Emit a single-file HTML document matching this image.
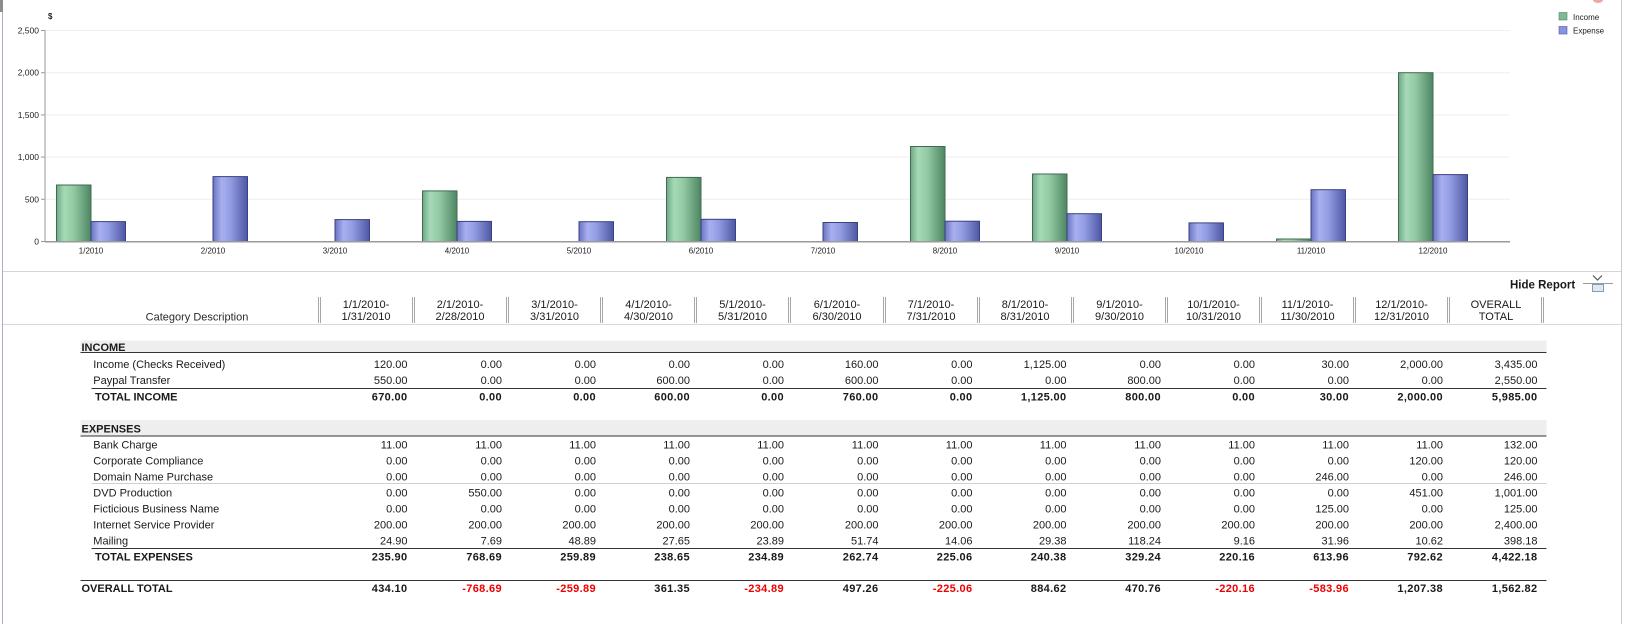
<!DOCTYPE html>
<html>
<head>
<meta charset="utf-8">
<style>
html,body{margin:0;padding:0;background:#fff;}
body{width:1627px;height:624px;overflow:hidden;}
svg{display:block;}
text{font-family:"Liberation Sans",Arial,sans-serif;fill:#1a1a1a;}
.v{font-size:11px;text-anchor:end;}
.b{font-weight:bold;letter-spacing:0.35px;}
.r{fill:#f00000;}
.h{font-size:11px;text-anchor:middle;fill:#2a2a2a;}
.l{font-size:11px;}
.ax{font-size:8px;fill:#222;}
.yl{font-size:8.5px;fill:#222;text-anchor:end;}
</style>
</head>
<body>
<svg width="1627" height="624" viewBox="0 0 1627 624" xmlns="http://www.w3.org/2000/svg">
<defs>
<linearGradient id="gG" x1="0" y1="0" x2="1" y2="0">
<stop offset="0" stop-color="#6ea886"/>
<stop offset="0.22" stop-color="#a6dab6"/>
<stop offset="0.5" stop-color="#92c9a3"/>
<stop offset="1" stop-color="#4d8562"/>
</linearGradient>
<linearGradient id="gB" x1="0" y1="0" x2="1" y2="0">
<stop offset="0" stop-color="#6a74c0"/>
<stop offset="0.25" stop-color="#a8b0f0"/>
<stop offset="0.5" stop-color="#939de3"/>
<stop offset="1" stop-color="#4e57a3"/>
</linearGradient>
</defs>

<!-- frame borders -->
<line x1="2.5" y1="0" x2="2.5" y2="624" stroke="#a8b2c0" stroke-width="1"/>
<rect x="0" y="0" width="3" height="12" fill="#8c8c8c"/>
<line x1="1621.5" y1="0" x2="1621.5" y2="624" stroke="#cccccc" stroke-width="1"/>
<ellipse cx="1598" cy="0" rx="5" ry="3" fill="#e8a8a8"/>

<!-- gridlines -->
<g stroke="#efefef" stroke-width="1">
<line x1="45" y1="30.5" x2="1510" y2="30.5"/>
<line x1="45" y1="72.7" x2="1510" y2="72.7"/>
<line x1="45" y1="114.9" x2="1510" y2="114.9"/>
<line x1="45" y1="157.1" x2="1510" y2="157.1"/>
<line x1="45" y1="199.3" x2="1510" y2="199.3"/>
</g>

<!-- y axis labels -->
<text x="48" y="19" style="font-size:8px;font-weight:bold;fill:#222">$</text>
<text class="yl" x="39" y="33.5">2,500</text>
<text class="yl" x="39" y="75.7">2,000</text>
<text class="yl" x="39" y="117.9">1,500</text>
<text class="yl" x="39" y="160.1">1,000</text>
<text class="yl" x="39" y="202.3">500</text>
<text class="yl" x="39" y="244.5">0</text>
<g stroke="#999" stroke-width="1">
<line x1="41" y1="30.5" x2="45" y2="30.5"/>
<line x1="41" y1="72.7" x2="45" y2="72.7"/>
<line x1="41" y1="114.9" x2="45" y2="114.9"/>
<line x1="41" y1="157.1" x2="45" y2="157.1"/>
<line x1="41" y1="199.3" x2="45" y2="199.3"/>
<line x1="41" y1="241.5" x2="45" y2="241.5"/>
</g>

<!-- bars -->
<g stroke-width="1">
<g fill="url(#gG)" stroke="#3f6b52">
<rect x="56.5" y="185" width="34.5" height="56.5"/>
<rect x="422.5" y="190.9" width="34.5" height="50.6"/>
<rect x="666.5" y="177.4" width="34.5" height="64.1"/>
<rect x="910.5" y="146.5" width="34.5" height="95"/>
<rect x="1032.5" y="174" width="34.5" height="67.5"/>
<rect x="1276.5" y="239" width="34.5" height="2.5"/>
<rect x="1398.5" y="72.7" width="34.5" height="168.8"/>
</g>
<g fill="url(#gB)" stroke="#3a4180">
<rect x="91" y="221.6" width="34.5" height="19.9"/>
<rect x="213" y="176.6" width="34.5" height="64.9"/>
<rect x="335" y="219.6" width="34.5" height="21.9"/>
<rect x="457" y="221.4" width="34.5" height="20.1"/>
<rect x="579" y="221.7" width="34.5" height="19.8"/>
<rect x="701" y="219.3" width="34.5" height="22.2"/>
<rect x="823" y="222.5" width="34.5" height="19"/>
<rect x="945" y="221.2" width="34.5" height="20.3"/>
<rect x="1067" y="213.7" width="34.5" height="27.8"/>
<rect x="1189" y="222.9" width="34.5" height="18.6"/>
<rect x="1311" y="189.7" width="34.5" height="51.8"/>
<rect x="1433" y="174.6" width="34.5" height="66.9"/>
</g>
</g>

<!-- axes -->
<line x1="45" y1="30" x2="45" y2="242" stroke="#999" stroke-width="1"/>
<line x1="45" y1="241.8" x2="1510" y2="241.8" stroke="#9a9a9a" stroke-width="1.5"/>

<!-- x labels -->
<g class="ax" text-anchor="middle">
<text x="91" y="253.5">1/2010</text>
<text x="213" y="253.5">2/2010</text>
<text x="335" y="253.5">3/2010</text>
<text x="457" y="253.5">4/2010</text>
<text x="579" y="253.5">5/2010</text>
<text x="701" y="253.5">6/2010</text>
<text x="823" y="253.5">7/2010</text>
<text x="945" y="253.5">8/2010</text>
<text x="1067" y="253.5">9/2010</text>
<text x="1189" y="253.5">10/2010</text>
<text x="1311" y="253.5">11/2010</text>
<text x="1433" y="253.5">12/2010</text>
</g>

<!-- legend -->
<rect x="1559" y="12.5" width="8" height="7.5" fill="#7fb893" stroke="#4d8562" stroke-width="0.6"/>
<rect x="1559" y="26.5" width="8" height="7.5" fill="#8a94de" stroke="#4e57a3" stroke-width="0.6"/>
<text class="ax" x="1573" y="19.8">Income</text>
<text class="ax" x="1573" y="33.6">Expense</text>

<!-- separator -->
<line x1="3" y1="271.5" x2="1621" y2="271.5" stroke="#d6d6d6" stroke-width="1"/>

<!-- Hide report -->
<text x="1510" y="288.5" style="font-size:11.5px;font-weight:bold;fill:#1a1a1a">Hide Report</text>
<line x1="1583" y1="283.5" x2="1613" y2="283.5" stroke="#9a9a9a" stroke-width="1"/>
<polyline points="1593,275.5 1597.5,280 1602,275.5" fill="none" stroke="#555" stroke-width="1.2"/>
<rect x="1592.5" y="284.5" width="11" height="7" fill="#dfe7f1" stroke="#8a9ab0" stroke-width="1"/>

<!-- header double lines -->
<g stroke="#a6a6a6" stroke-width="1">
<line x1="318.5" y1="297" x2="318.5" y2="323"/><line x1="320.5" y1="297" x2="320.5" y2="323"/>
<line x1="412.5" y1="297" x2="412.5" y2="323"/><line x1="414.5" y1="297" x2="414.5" y2="323"/>
<line x1="506.5" y1="297" x2="506.5" y2="323"/><line x1="508.5" y1="297" x2="508.5" y2="323"/>
<line x1="600.5" y1="297" x2="600.5" y2="323"/><line x1="602.5" y1="297" x2="602.5" y2="323"/>
<line x1="694.5" y1="297" x2="694.5" y2="323"/><line x1="696.5" y1="297" x2="696.5" y2="323"/>
<line x1="788.5" y1="297" x2="788.5" y2="323"/><line x1="790.5" y1="297" x2="790.5" y2="323"/>
<line x1="883.5" y1="297" x2="883.5" y2="323"/><line x1="885.5" y1="297" x2="885.5" y2="323"/>
<line x1="977.5" y1="297" x2="977.5" y2="323"/><line x1="979.5" y1="297" x2="979.5" y2="323"/>
<line x1="1071.5" y1="297" x2="1071.5" y2="323"/><line x1="1073.5" y1="297" x2="1073.5" y2="323"/>
<line x1="1165.5" y1="297" x2="1165.5" y2="323"/><line x1="1167.5" y1="297" x2="1167.5" y2="323"/>
<line x1="1259.5" y1="297" x2="1259.5" y2="323"/><line x1="1261.5" y1="297" x2="1261.5" y2="323"/>
<line x1="1353.5" y1="297" x2="1353.5" y2="323"/><line x1="1355.5" y1="297" x2="1355.5" y2="323"/>
<line x1="1447.5" y1="297" x2="1447.5" y2="323"/><line x1="1449.5" y1="297" x2="1449.5" y2="323"/>
<line x1="1541.5" y1="297" x2="1541.5" y2="323"/><line x1="1543.5" y1="297" x2="1543.5" y2="323"/>
</g>
<line x1="3" y1="324.5" x2="1621" y2="324.5" stroke="#d8d8d8" stroke-width="1"/>

<!-- header text -->
<text class="h" x="197" y="320.5">Category Description</text>
<g class="h">
<text x="366" y="308">1/1/2010-</text><text x="366" y="320">1/31/2010</text>
<text x="460" y="308">2/1/2010-</text><text x="460" y="320">2/28/2010</text>
<text x="554.5" y="308">3/1/2010-</text><text x="554.5" y="320">3/31/2010</text>
<text x="648.5" y="308">4/1/2010-</text><text x="648.5" y="320">4/30/2010</text>
<text x="742.5" y="308">5/1/2010-</text><text x="742.5" y="320">5/31/2010</text>
<text x="837" y="308">6/1/2010-</text><text x="837" y="320">6/30/2010</text>
<text x="931" y="308">7/1/2010-</text><text x="931" y="320">7/31/2010</text>
<text x="1025" y="308">8/1/2010-</text><text x="1025" y="320">8/31/2010</text>
<text x="1119.5" y="308">9/1/2010-</text><text x="1119.5" y="320">9/30/2010</text>
<text x="1213.5" y="308">10/1/2010-</text><text x="1213.5" y="320">10/31/2010</text>
<text x="1307.5" y="308">11/1/2010-</text><text x="1307.5" y="320">11/30/2010</text>
<text x="1401.5" y="308">12/1/2010-</text><text x="1401.5" y="320">12/31/2010</text>
<text x="1496" y="308">OVERALL</text><text x="1496" y="320">TOTAL</text>
</g>

<!-- section bands and lines -->
<rect x="80.5" y="340.5" width="1466" height="11.5" fill="#eeeeee"/>
<line x1="80.5" y1="352.5" x2="1546.5" y2="352.5" stroke="#333" stroke-width="1"/>
<line x1="91.5" y1="388.5" x2="1546.5" y2="388.5" stroke="#333" stroke-width="1"/>
<rect x="80.5" y="420" width="1466" height="15.5" fill="#eeeeee"/>
<line x1="80.5" y1="436" x2="1546.5" y2="436" stroke="#333" stroke-width="1"/>
<line x1="91.5" y1="483.5" x2="1546.5" y2="483.5" stroke="#cfcfcf" stroke-width="1"/>
<line x1="91.5" y1="548.5" x2="1546.5" y2="548.5" stroke="#333" stroke-width="1"/>
<line x1="80.5" y1="580.5" x2="1546.5" y2="580.5" stroke="#333" stroke-width="1"/>

<!-- labels -->
<g class="l">
<text x="81.5" y="351" class="b" style="font-weight:bold;letter-spacing:0">INCOME</text>
<text x="93.3" y="368">Income (Checks Received)</text>
<text x="93.3" y="384">Paypal Transfer</text>
<text x="95" y="400.5" style="font-weight:bold">TOTAL INCOME</text>
<text x="81.5" y="432.3" style="font-weight:bold">EXPENSES</text>
<text x="93.3" y="448.3">Bank Charge</text>
<text x="93.3" y="464.3">Corporate Compliance</text>
<text x="93.3" y="480.3">Domain Name Purchase</text>
<text x="93.3" y="496.3">DVD Production</text>
<text x="93.3" y="512.3">Ficticious Business Name</text>
<text x="93.3" y="528.3">Internet Service Provider</text>
<text x="93.3" y="544.3">Mailing</text>
<text x="95" y="560.3" style="font-weight:bold">TOTAL EXPENSES</text>
<text x="81.5" y="592" style="font-weight:bold">OVERALL TOTAL</text>
</g>

<!-- values -->
<g class="v" transform="translate(0,368)">
<text x="407.5">120.00</text><text x="502">0.00</text><text x="596">0.00</text><text x="690">0.00</text><text x="784">0.00</text><text x="878.5">160.00</text><text x="972.5">0.00</text><text x="1066.5">1,125.00</text><text x="1161">0.00</text><text x="1255">0.00</text><text x="1349">30.00</text><text x="1443">2,000.00</text><text x="1537.5">3,435.00</text>
</g>
<g class="v" transform="translate(0,384)">
<text x="407.5">550.00</text><text x="502">0.00</text><text x="596">0.00</text><text x="690">600.00</text><text x="784">0.00</text><text x="878.5">600.00</text><text x="972.5">0.00</text><text x="1066.5">0.00</text><text x="1161">800.00</text><text x="1255">0.00</text><text x="1349">0.00</text><text x="1443">0.00</text><text x="1537.5">2,550.00</text>
</g>
<g class="v b" transform="translate(0,400.5)">
<text x="407.5">670.00</text><text x="502">0.00</text><text x="596">0.00</text><text x="690">600.00</text><text x="784">0.00</text><text x="878.5">760.00</text><text x="972.5">0.00</text><text x="1066.5">1,125.00</text><text x="1161">800.00</text><text x="1255">0.00</text><text x="1349">30.00</text><text x="1443">2,000.00</text><text x="1537.5">5,985.00</text>
</g>
<g class="v" transform="translate(0,448.3)">
<text x="407.5">11.00</text><text x="502">11.00</text><text x="596">11.00</text><text x="690">11.00</text><text x="784">11.00</text><text x="878.5">11.00</text><text x="972.5">11.00</text><text x="1066.5">11.00</text><text x="1161">11.00</text><text x="1255">11.00</text><text x="1349">11.00</text><text x="1443">11.00</text><text x="1537.5">132.00</text>
</g>
<g class="v" transform="translate(0,464.3)">
<text x="407.5">0.00</text><text x="502">0.00</text><text x="596">0.00</text><text x="690">0.00</text><text x="784">0.00</text><text x="878.5">0.00</text><text x="972.5">0.00</text><text x="1066.5">0.00</text><text x="1161">0.00</text><text x="1255">0.00</text><text x="1349">0.00</text><text x="1443">120.00</text><text x="1537.5">120.00</text>
</g>
<g class="v" transform="translate(0,480.3)">
<text x="407.5">0.00</text><text x="502">0.00</text><text x="596">0.00</text><text x="690">0.00</text><text x="784">0.00</text><text x="878.5">0.00</text><text x="972.5">0.00</text><text x="1066.5">0.00</text><text x="1161">0.00</text><text x="1255">0.00</text><text x="1349">246.00</text><text x="1443">0.00</text><text x="1537.5">246.00</text>
</g>
<g class="v" transform="translate(0,496.3)">
<text x="407.5">0.00</text><text x="502">550.00</text><text x="596">0.00</text><text x="690">0.00</text><text x="784">0.00</text><text x="878.5">0.00</text><text x="972.5">0.00</text><text x="1066.5">0.00</text><text x="1161">0.00</text><text x="1255">0.00</text><text x="1349">0.00</text><text x="1443">451.00</text><text x="1537.5">1,001.00</text>
</g>
<g class="v" transform="translate(0,512.3)">
<text x="407.5">0.00</text><text x="502">0.00</text><text x="596">0.00</text><text x="690">0.00</text><text x="784">0.00</text><text x="878.5">0.00</text><text x="972.5">0.00</text><text x="1066.5">0.00</text><text x="1161">0.00</text><text x="1255">0.00</text><text x="1349">125.00</text><text x="1443">0.00</text><text x="1537.5">125.00</text>
</g>
<g class="v" transform="translate(0,528.3)">
<text x="407.5">200.00</text><text x="502">200.00</text><text x="596">200.00</text><text x="690">200.00</text><text x="784">200.00</text><text x="878.5">200.00</text><text x="972.5">200.00</text><text x="1066.5">200.00</text><text x="1161">200.00</text><text x="1255">200.00</text><text x="1349">200.00</text><text x="1443">200.00</text><text x="1537.5">2,400.00</text>
</g>
<g class="v" transform="translate(0,544.3)">
<text x="407.5">24.90</text><text x="502">7.69</text><text x="596">48.89</text><text x="690">27.65</text><text x="784">23.89</text><text x="878.5">51.74</text><text x="972.5">14.06</text><text x="1066.5">29.38</text><text x="1161">118.24</text><text x="1255">9.16</text><text x="1349">31.96</text><text x="1443">10.62</text><text x="1537.5">398.18</text>
</g>
<g class="v b" transform="translate(0,560.3)">
<text x="407.5">235.90</text><text x="502">768.69</text><text x="596">259.89</text><text x="690">238.65</text><text x="784">234.89</text><text x="878.5">262.74</text><text x="972.5">225.06</text><text x="1066.5">240.38</text><text x="1161">329.24</text><text x="1255">220.16</text><text x="1349">613.96</text><text x="1443">792.62</text><text x="1537.5">4,422.18</text>
</g>
<g class="v b" transform="translate(0,592)">
<text x="407.5">434.10</text><text x="502" class="r">-768.69</text><text x="596" class="r">-259.89</text><text x="690">361.35</text><text x="784" class="r">-234.89</text><text x="878.5">497.26</text><text x="972.5" class="r">-225.06</text><text x="1066.5">884.62</text><text x="1161">470.76</text><text x="1255" class="r">-220.16</text><text x="1349" class="r">-583.96</text><text x="1443">1,207.38</text><text x="1537.5">1,562.82</text>
</g>
</svg>
</body>
</html>
